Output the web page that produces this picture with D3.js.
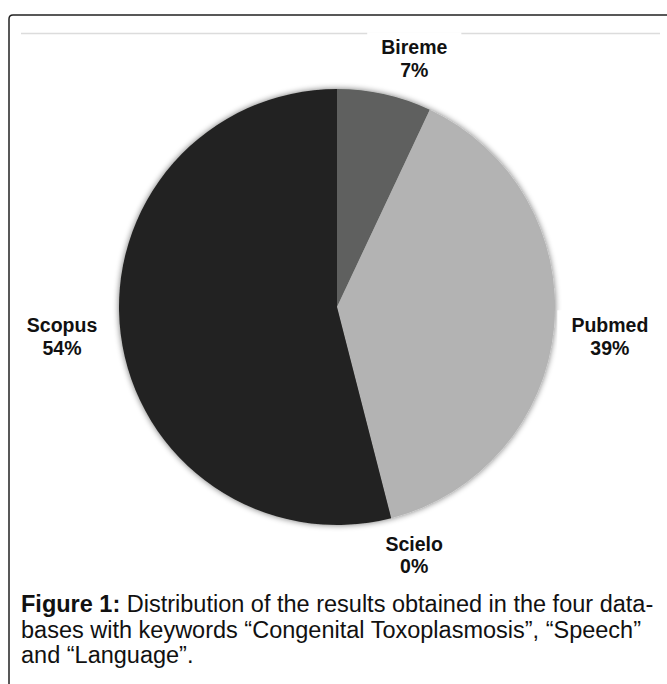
<!DOCTYPE html>
<html>
<head>
<meta charset="utf-8">
<script src="https://cdn.jsdelivr.net/npm/d3@7"></script>
<style>
  body { margin: 0; background: #fff; }
  text { font-family: "Liberation Sans", Arial, sans-serif; }
</style>
</head>
<body>
<div id="chart"></div>
<script>
// data
var databases   =   [ 'Bireme', 'Pubmed', 'Scielo', 'Scopus' ];
var percents    =   [ 7, 39, 0, 54 ];
var colors      =   [ '#5f615f', '#b3b3b3', '#8a8a8a', '#232322' ];
var caption     =   [
    [ 'Figure 1:', ' Distribution of the results obtained in the four data-' ],
    [ '', 'bases with keywords \u201cCongenital Toxoplasmosis\u201d, \u201cSpeech\u201d' ],
    [ '', 'and \u201cLanguage\u201d.' ]
];

var chart_width     =   667;
var chart_height    =   684;
var cx = 337, cy = 307, radius = 218;

var svg = d3.select( '#chart' )
    .append( 'svg' )
    .attr( 'width', chart_width )
    .attr( 'height', chart_height );

// soft shadow round the pie
var defs = svg.append( 'defs' );
var f = defs.append( 'filter' ).attr( 'id', 'glow' )
    .attr( 'x', '-10%' ).attr( 'y', '-10%' ).attr( 'width', '120%' ).attr( 'height', '120%' );
f.append( 'feGaussianBlur' ).attr( 'in', 'SourceAlpha' ).attr( 'stdDeviation', 3 ).attr( 'result', 'b' );
f.append( 'feComponentTransfer' ).attr( 'in', 'b' ).attr( 'result', 'bb' )
    .append( 'feFuncA' ).attr( 'type', 'linear' ).attr( 'slope', 0.55 );
var fm = f.append( 'feMerge' );
fm.append( 'feMergeNode' ).attr( 'in', 'bb' );
fm.append( 'feMergeNode' ).attr( 'in', 'SourceGraphic' );

// frame
svg.append( 'path' )
    .attr( 'd', 'M9,' + (chart_height + 5) + ' L9,19 Q9,15 13,15 L' + (chart_width + 5) + ',15' )
    .attr( 'fill', 'none' )
    .attr( 'stroke', '#222' )
    .attr( 'stroke-width', 1.5 );

// thin grey rule at the top of the plot area
svg.append( 'line' )
    .attr( 'x1', 21 ).attr( 'x2', 660 )
    .attr( 'y1', 33.5 ).attr( 'y2', 33.5 )
    .attr( 'stroke', '#dcdcdc' )
    .attr( 'stroke-width', 1.5 );

var pie = d3.pie().sort( null ).value( function( d ){ return d; } );
var arcs = pie( percents );
var arc = d3.arc().innerRadius( 0 ).outerRadius( radius );

svg.append( 'g' )
    .attr( 'transform', 'translate(' + cx + ',' + cy + ')' )
    .attr( 'filter', 'url(#glow)' )
    .selectAll( 'path' )
    .data( arcs )
    .enter()
    .append( 'path' )
    .attr( 'd', arc )
    .attr( 'fill', function( d, i ){ return colors[i]; } );

// labels sit outside the pie; Excel pushes them outward a bit
var labelR = 258;
var nudge = { Bireme: [ 21, 3 ], Pubmed: [ 16, 5 ], Scielo: [ 13, -2 ], Scopus: [ -19, -3 ] };
var labels = svg.append( 'g' );

arcs.forEach( function( d, i ){
    var a   = ( d.startAngle + d.endAngle ) / 2;
    var nm  = databases[i];
    var x   = cx + labelR * Math.sin( a ) + nudge[nm][0];
    var y   = cy - labelR * Math.cos( a ) + nudge[nm][1];
    var g   = labels.append( 'g' ).attr( 'transform', 'translate(' + x + ',' + y + ')' );
    var bg  = g.append( 'rect' ).attr( 'fill', '#fff' );
    var t1 = g.append( 'text' )
        .attr( 'text-anchor', 'middle' )
        .attr( 'y', -4 )
        .attr( 'font-size', 19.5 )
        .attr( 'font-weight', 'bold' )
        .attr( 'fill', '#111' )
        .text( nm );
    g.append( 'text' )
        .attr( 'text-anchor', 'middle' )
        .attr( 'y', 18.5 )
        .attr( 'font-size', 19.5 )
        .attr( 'font-weight', 'bold' )
        .attr( 'fill', '#111' )
        .text( percents[i] + '%' );
    var w = t1.node().getComputedTextLength();
    bg.attr( 'x', -w / 2 - 14 ).attr( 'y', -26 )
      .attr( 'width', w + 28 ).attr( 'height', 52 );
});

// caption
var cap = svg.append( 'text' )
    .attr( 'font-size', 23.5 )
    .attr( 'fill', '#111' );
caption.forEach( function( ln, i ){
    var t = cap.append( 'tspan' ).attr( 'x', 21 ).attr( 'y', 612 + i * 25.5 );
    if ( ln[0] ) t.append( 'tspan' ).attr( 'font-weight', 'bold' ).text( ln[0] );
    t.append( 'tspan' ).text( ln[1] );
});
</script>
</body>
</html>
